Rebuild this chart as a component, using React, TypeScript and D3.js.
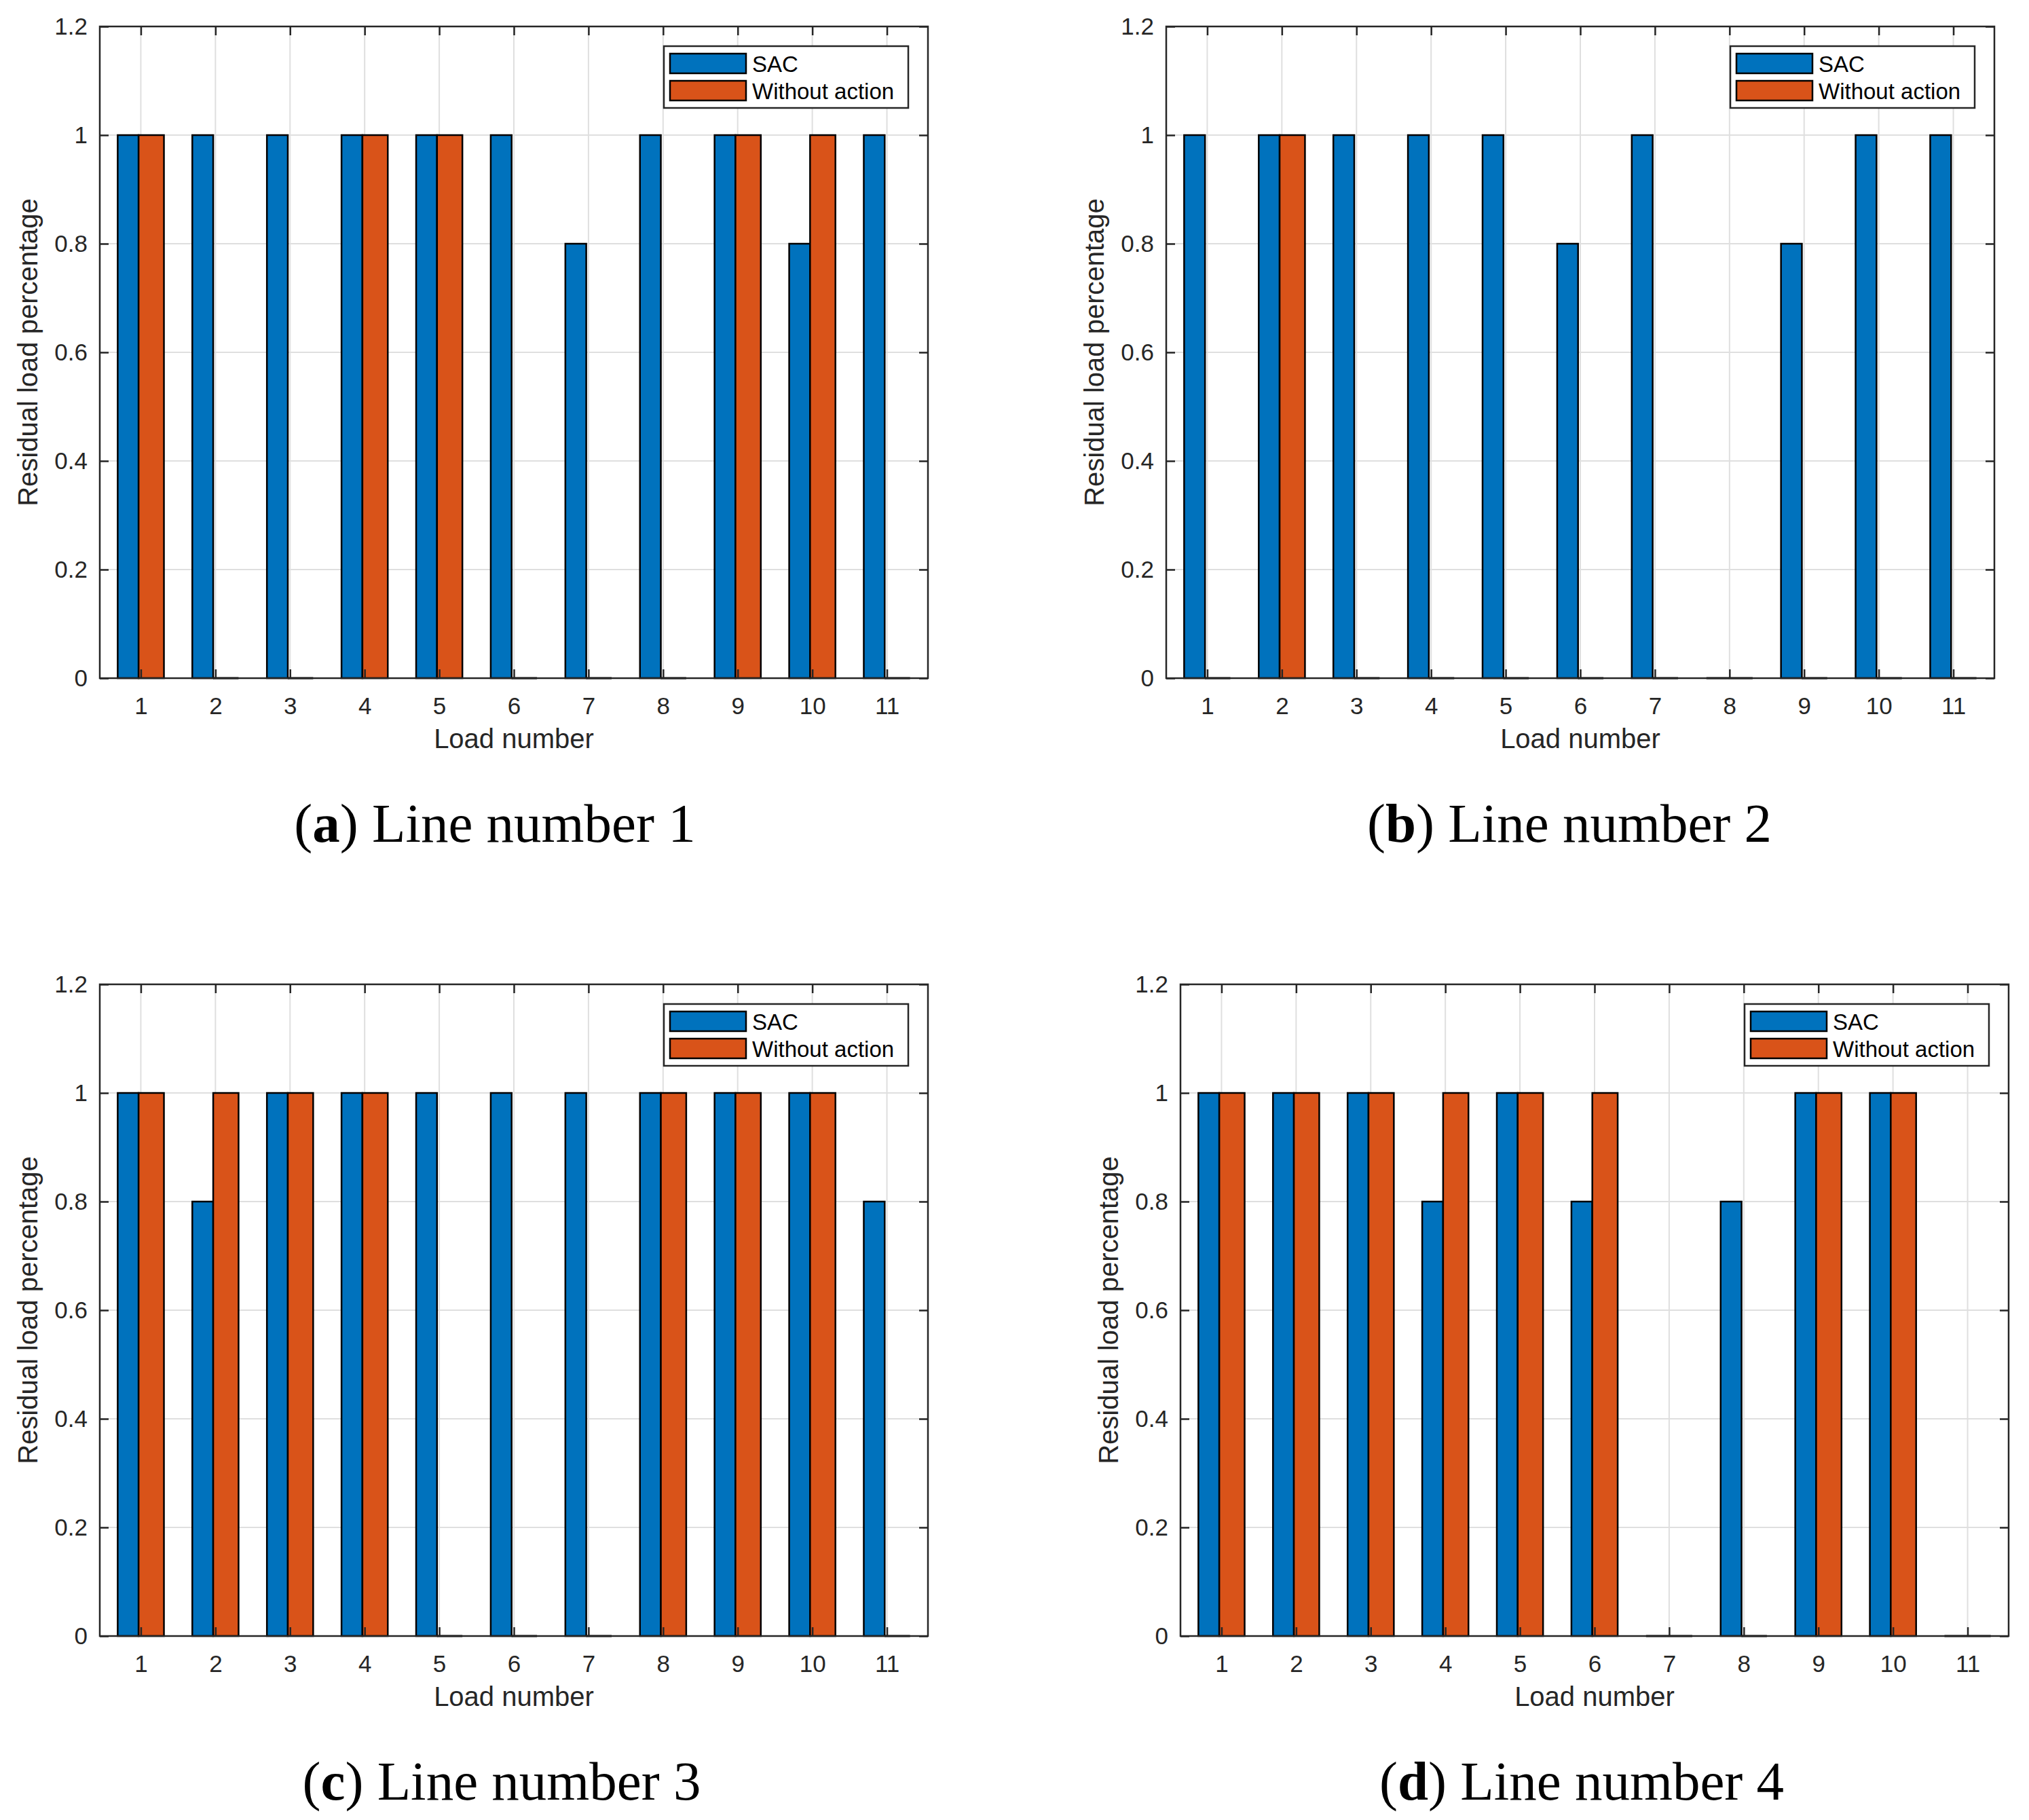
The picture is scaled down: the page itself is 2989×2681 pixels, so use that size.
import * as d3 from 'd3';
import React, { useEffect, useRef } from 'react';

// load numbers on the x axis
const loads = [1, 2, 3, 4, 5, 6, 7, 8, 9, 10, 11];
const yTicks = [0, 0.2, 0.4, 0.6, 0.8, 1, 1.2];
const seriesNames = ['SAC', 'Without action'];
const seriesColors = ['#0072BD', '#D95319'];

// residual load percentage, per line
const sacLine1 = [1, 1, 1, 1, 1, 1, 0.8, 1, 1, 0.8, 1];
const withoutLine1 = [1, 0, 0, 1, 1, 0, 0, 0, 1, 1, 0];
const sacLine2 = [1, 1, 1, 1, 1, 0.8, 1, 0, 0.8, 1, 1];
const withoutLine2 = [0, 1, 0, 0, 0, 0, 0, 0, 0, 0, 0];
const sacLine3 = [1, 0.8, 1, 1, 1, 1, 1, 1, 1, 1, 0.8];
const withoutLine3 = [1, 1, 1, 1, 0, 0, 0, 1, 1, 1, 0];
const sacLine4 = [1, 1, 1, 0.8, 1, 0.8, 0, 0.8, 1, 1, 0];
const withoutLine4 = [1, 1, 1, 1, 1, 1, 0, 0, 1, 1, 0];

const captionLetters = ['a', 'b', 'c', 'd'];
const lineNumbers = [1, 2, 3, 4];

const App = () => {
    const chartArea = useRef(null);

    useEffect(() => {
        const svg = d3.select(chartArea.current);
        svg.selectAll('*').remove();

        const width = 1220, height = 960;
        const sansFont = '"Liberation Sans", Arial, Helvetica, sans-serif';
        const axisColor = '#262626';

        const panels = [
            { sac: sacLine1, without: withoutLine1, left: 147, top: 39, capX: 729 },
            { sac: sacLine2, without: withoutLine2, left: 1718, top: 39, capX: 2312 },
            { sac: sacLine3, without: withoutLine3, left: 147, top: 1450, capX: 739 },
            { sac: sacLine4, without: withoutLine4, left: 1739, top: 1450, capX: 2330 },
        ];

        // bar extents around each load tick, in x units
        const barOffsets = [[-0.31, -0.03], [-0.03, 0.31]];

        panels.forEach((p, k) => {
            const g = svg.append('g')
                .attr('transform', 'translate(' + p.left + ',' + p.top + ')');

            const x = d3.scaleLinear().domain([0.45, 11.55]).range([0, width]);
            const y = d3.scaleLinear().domain([0, 1.2]).range([height, 0]);

            g.append('rect')
                .attr('width', width).attr('height', height)
                .attr('fill', '#fff');

            // grid
            g.append('g').selectAll('line').data(loads).join('line')
                .attr('x1', d => x(d)).attr('x2', d => x(d))
                .attr('y1', 0).attr('y2', height)
                .attr('stroke', '#dfdfdf').attr('stroke-width', 2);
            g.append('g').selectAll('line').data(yTicks.filter(t => t > 0 && t < 1.2)).join('line')
                .attr('x1', 0).attr('x2', width)
                .attr('y1', d => y(d)).attr('y2', d => y(d))
                .attr('stroke', '#dfdfdf').attr('stroke-width', 2);

            // bars
            [p.sac, p.without].forEach((vals, s) => {
                const rows = loads.map((l, i) => ({ load: l, value: vals[i] }));
                g.append('g').selectAll('rect').data(rows.filter(r => r.value > 0)).join('rect')
                    .attr('x', d => x(d.load + barOffsets[s][0]))
                    .attr('width', d => x(d.load + barOffsets[s][1]) - x(d.load + barOffsets[s][0]))
                    .attr('y', d => y(d.value))
                    .attr('height', d => y(0) - y(d.value))
                    .attr('fill', seriesColors[s])
                    .attr('stroke', '#000')
                    .attr('stroke-width', 2.5);
                g.append('g').selectAll('line').data(rows.filter(r => r.value === 0)).join('line')
                    .attr('x1', d => x(d.load + barOffsets[s][0]))
                    .attr('x2', d => x(d.load + barOffsets[s][1]))
                    .attr('y1', y(0)).attr('y2', y(0))
                    .attr('stroke', '#000')
                    .attr('stroke-width', 3);
            });

            // axes
            const styleAxis = (a: any) => {
                a.select('.domain').remove();
                a.attr('color', axisColor)
                    .attr('font-size', 35)
                    .attr('font-family', sansFont);
                a.selectAll('.tick line').attr('stroke-width', 2.5);
            };
            g.append('g').attr('transform', 'translate(0,' + height + ')')
                .call(d3.axisBottom(x).tickValues(loads).tickSize(-13).tickPadding(28).tickFormat(d => String(d)))
                .call(styleAxis);
            g.append('g')
                .call(d3.axisTop(x).tickValues(loads).tickSize(-13).tickFormat(() => ''))
                .call(styleAxis);
            g.append('g')
                .call(d3.axisLeft(y).tickValues(yTicks).tickSize(-13).tickPadding(18).tickFormat(d => String(d)))
                .call(styleAxis);
            g.append('g').attr('transform', 'translate(' + width + ',0)')
                .call(d3.axisRight(y).tickValues(yTicks).tickSize(-13).tickFormat(() => ''))
                .call(styleAxis);

            // box
            g.append('rect')
                .attr('width', width).attr('height', height)
                .attr('fill', 'none')
                .attr('stroke', axisColor).attr('stroke-width', 2.5);

            // axis labels
            g.append('text')
                .attr('x', width / 2).attr('y', height + 103)
                .attr('text-anchor', 'middle')
                .attr('font-family', sansFont).attr('font-size', 40)
                .attr('fill', axisColor)
                .text('Load number');
            g.append('text')
                .attr('transform', 'translate(-92,' + height / 2 + ') rotate(-90)')
                .attr('text-anchor', 'middle')
                .attr('font-family', sansFont).attr('font-size', 40)
                .attr('fill', axisColor)
                .text('Residual load percentage');

            // legend
            const lw = 360, lh = 91;
            const lg = g.append('g')
                .attr('transform', 'translate(' + (width - 29 - lw) + ',29)');
            lg.append('rect')
                .attr('width', lw).attr('height', lh)
                .attr('fill', '#fff')
                .attr('stroke', axisColor).attr('stroke-width', 2.5);
            seriesNames.forEach((name, s) => {
                lg.append('rect')
                    .attr('x', 9).attr('y', 11 + s * 40)
                    .attr('width', 112).attr('height', 29)
                    .attr('fill', seriesColors[s])
                    .attr('stroke', '#000').attr('stroke-width', 2.5);
                lg.append('text')
                    .attr('x', 130).attr('y', 38 + s * 40)
                    .attr('font-family', sansFont).attr('font-size', 33)
                    .attr('fill', '#000')
                    .text(name);
            });

            // caption
            const cap = svg.append('text')
                .attr('x', p.capX).attr('y', p.top + 1201)
                .attr('text-anchor', 'middle')
                .attr('font-family', '"Liberation Serif", "Times New Roman", serif')
                .attr('font-size', 81)
                .attr('fill', '#000');
            cap.append('tspan').text('(');
            cap.append('tspan').attr('font-weight', 'bold').text(captionLetters[k]);
            cap.append('tspan').text(') Line number ' + lineNumbers[k]);
        });
    }, []);

    return <svg
        ref={chartArea}
        width={2989}
        height={2681}
        style={{ position: 'absolute', left: 0, top: 0, background: '#fff' }}
    />;
}
export default App;
